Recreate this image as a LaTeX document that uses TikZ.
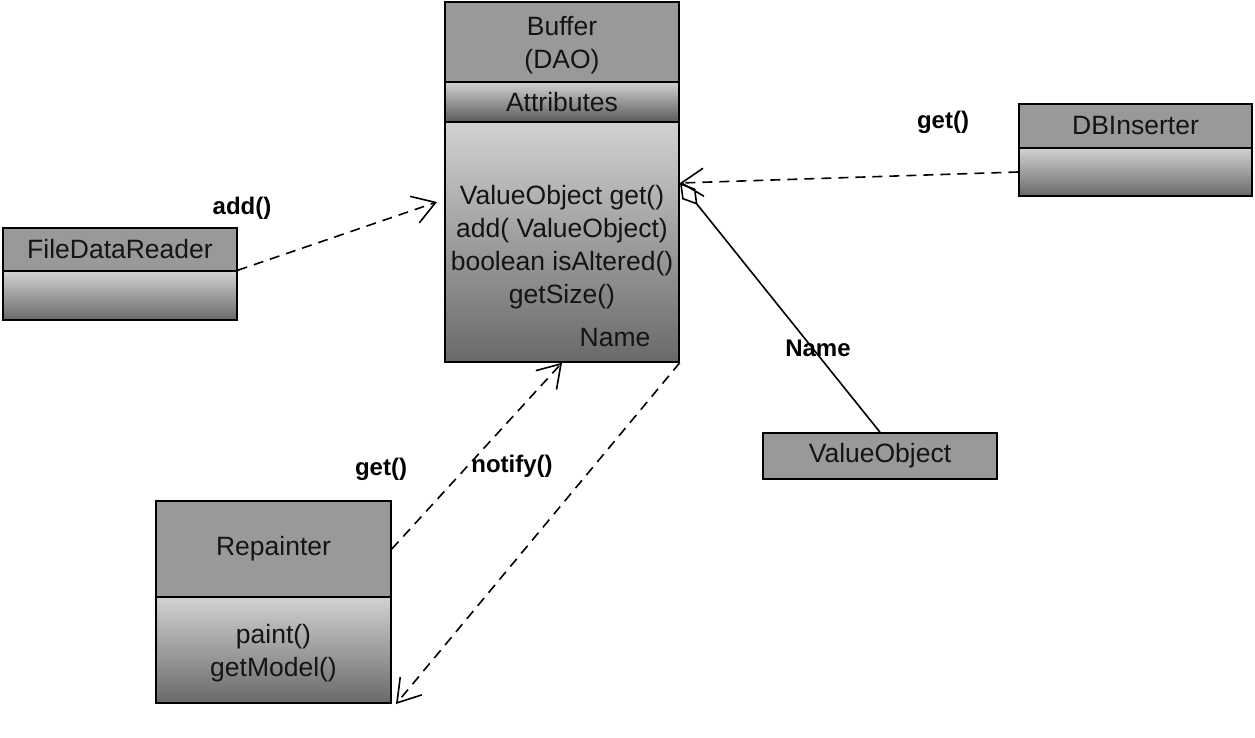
\documentclass[tikz,border=0pt]{standalone}
\usepackage{fontspec}
\setmainfont{Liberation Sans}
\usetikzlibrary{arrows.meta}
\definecolor{hdrgray}{RGB}{153,153,153}
\definecolor{gtop}{RGB}{210,210,210}
\definecolor{gbot}{RGB}{105,105,105}
\definecolor{txt}{RGB}{20,20,20}
\begin{document}
\begin{tikzpicture}[x=1pt,y=-1pt,
  box/.style={draw=black, line width=1.5pt, inner sep=0pt, text=txt,
    font=\fontsize{26.5}{33}\selectfont, align=center},
  hdr/.style={box, fill=hdrgray},
  comp/.style={box, top color=gtop, bottom color=gbot},
  txtn/.style={text=txt, font=\fontsize{26.5}{33}\selectfont, align=center, inner sep=0pt},
  lbl/.style={font=\bfseries\fontsize{24}{28}\selectfont, inner sep=0pt},
  dep/.style={dash pattern=on 10pt off 7pt, line width=1.6pt,
    -{Straight Barb[length=22pt,width=28pt,line width=1.6pt]}},
  agg/.style={line width=1.6pt, {Diamond[open,length=28pt,width=17pt,line width=1.6pt]}-}
]
\useasboundingbox (0,0) rectangle (1255,737);

% Buffer
\node[hdr, minimum width=234pt, minimum height=80pt] (bufh) at (562,42) {};
\node[txtn] (bufht) at (562,45) {Buffer\\(DAO)};
\node[comp, minimum width=234pt, minimum height=40pt, top color=gtop, bottom color=gbot!110] (bufa) at (562,102) {Attributes};
\node[comp, minimum width=234pt, minimum height=240pt] (bufm) at (562,242) {};
\node[txtn] (bufops) at (562,247) {ValueObject get()\\add( ValueObject)\\boolean isAltered()\\getSize()};
\node[txtn] (bufname) at (615,338) {Name};

% DBInserter
\node[hdr, minimum width=233pt, minimum height=44pt] (dbh) at (1135.5,126) {DBInserter};
\node[comp, minimum width=233pt, minimum height=48pt] (dbl) at (1135.5,172) {};

% FileDataReader
\node[hdr, minimum width=234pt, minimum height=43pt] (fdrh) at (120,249.5) {FileDataReader};
\node[comp, minimum width=234pt, minimum height=49pt] (fdrl) at (120,295.5) {};

% ValueObject
\node[hdr, minimum width=234pt, minimum height=46pt] (vo) at (880,456) {ValueObject};

% Repainter
\node[hdr, minimum width=235pt, minimum height=96pt] (reph) at (273.5,549) {Repainter};
\node[comp, minimum width=235pt, minimum height=106pt] (repl) at (273.5,650) {};
\node[txtn] (replt) at (273.5,653) {paint()\\getModel()};

% helper coordinates
\coordinate (fdrTip) at (437,202);
\coordinate (bufEast) at (680,183);
\coordinate (repTip) at (396,704);

% connectors
\draw[dep] (fdrl.north east) -- (fdrTip);
\draw[dep] (dbl.west) -- (bufEast);
\draw[agg] (bufEast) -- (vo.north);
\draw[dep] (reph.east) -- (bufm.south);
\draw[dep] (bufm.south east) -- (repTip);

% labels
\node[lbl] (l1) at (242,208) {add()};
\node[lbl] (l2) at (943,122) {get()};
\node[lbl] (l3) at (818,348) {Name};
\node[lbl] (l4) at (381,469) {get()};
\node[lbl] (l5) at (512,466) {notify()};
\end{tikzpicture}
\end{document}
